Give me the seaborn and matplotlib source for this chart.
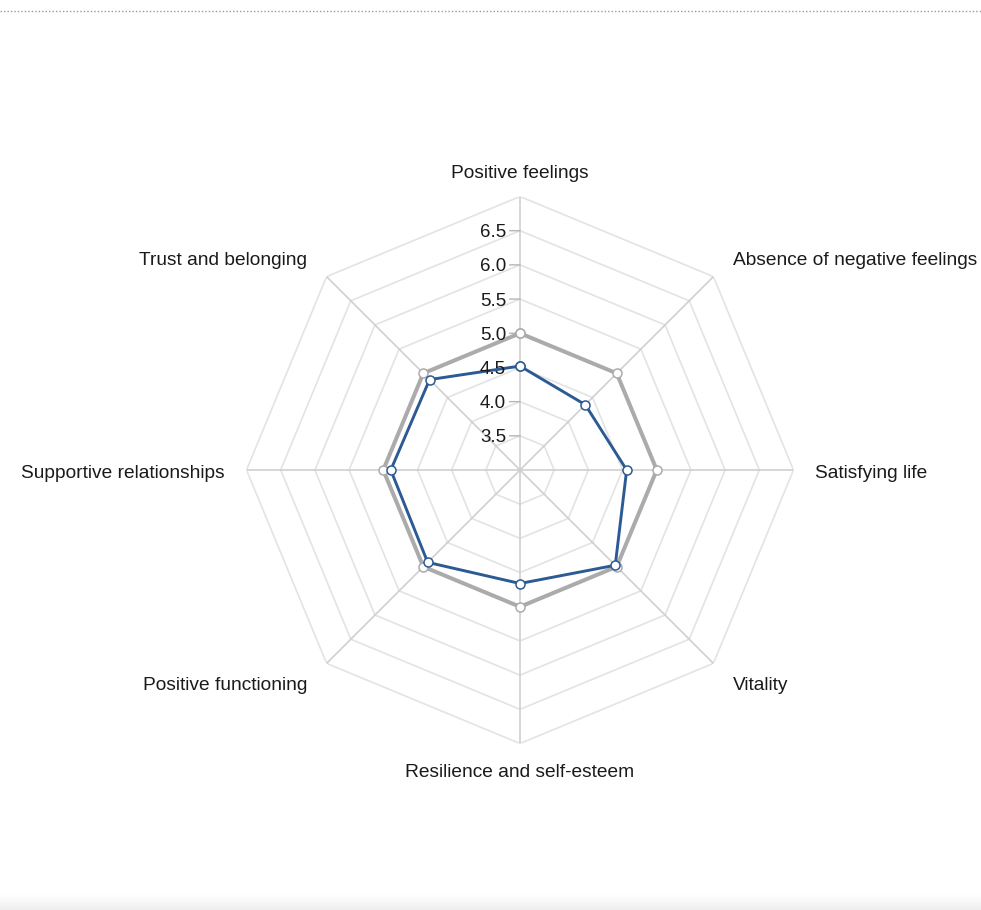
import numpy as np
import pandas as pd
import matplotlib
matplotlib.use("Agg")
import matplotlib.pyplot as plt
from matplotlib.lines import Line2D
import seaborn as sns

categories = ["Positive feelings", "Absence of negative feelings", "Satisfying life",
              "Vitality", "Resilience and self-esteem", "Positive functioning",
              "Supportive relationships", "Trust and belonging"]
series_blue = [4.52, 4.35, 4.56, 4.97, 4.66, 4.91, 4.89, 4.87]
series_gray = [5.0, 5.0, 5.0, 5.0, 5.0, 5.0, 5.0, 5.0]
tick_values = [3.5, 4.0, 4.5, 5.0, 5.5, 6.0, 6.5]
tick_labels = ["3.5", "4.0", "4.5", "5.0", "5.5", "6.0", "6.5"]
grid_levels = [3.5, 4.0, 4.5, 5.0, 5.5, 6.0, 6.5, 7.0]
r_min, r_max = 3.0, 7.0

sns.set_style("white")
plt.rcParams["font.family"] = ["Liberation Sans", "DejaVu Sans"]

W, H = 981, 910
fig = plt.figure(figsize=(W / 100, H / 100), dpi=100)
cx, cy, R = 520, 470, 273.5
ax = fig.add_axes([(cx - R) / W, (H - cy - R) / H, 2 * R / W, 2 * R / H], projection="polar")
ax.set_theta_zero_location("N")
ax.set_theta_direction(-1)
ax.set_ylim(r_min, r_max)
ax.grid(False)
ax.spines["polar"].set_visible(False)
ax.set_xticks([])
ax.set_yticks([])
ax.set_facecolor("none")

n = len(categories)
angles = np.arange(n) * 2 * np.pi / n
closed_angles = np.append(angles, 2 * np.pi)

# polygon grid rings
for lv in grid_levels:
    ax.plot(closed_angles, [lv] * (n + 1), color="#e3e3e3", lw=1.2, zorder=1)
# spokes
for a in angles:
    ax.plot([a, a], [r_min, r_max], color="#cfcfcf", lw=1.2, zorder=1.5)

def draw_series(vals, color, lw, z):
    df = pd.DataFrame({"theta": closed_angles, "value": list(vals) + [vals[0]]})
    sns.lineplot(data=df, x="theta", y="value", ax=ax, sort=False, estimator=None,
                 color=color, lw=lw, marker="o", markersize=6.5, markerfacecolor="white",
                 markeredgecolor=color, markeredgewidth=1.1, zorder=z)

draw_series(series_gray, "#ababab", 2.9, 3)
draw_series(series_blue, "#2c5a93", 2.1, 4)
ax.set_xlabel("")
ax.set_ylabel("")
ax.set_xticks([])
ax.set_yticks([])
ax.set_ylim(r_min, r_max)

# radial tick labels and tick marks on the top spoke
for v, lab in zip(tick_values, tick_labels):
    ax.annotate("", xy=(0, v), xytext=(-7.5, 0), textcoords="offset points",
                arrowprops=dict(arrowstyle="-", color="#b5b5b5", lw=1.0,
                                shrinkA=0, shrinkB=0), zorder=2)
    ax.annotate(lab, xy=(0, v), xytext=(-10, -1.5), textcoords="offset points",
                ha="right", va="center", fontsize=13.5, color="#1a1a1a", zorder=5)

# category labels
for a, name in zip(angles, categories):
    s = np.sin(a)
    if abs(s) < 1e-6:
        ha, r = "center", 7.38
    elif abs(abs(s) - 1) < 1e-6:
        ha, r = ("left" if s > 0 else "right"), 7.32
    else:
        ha, r = ("left" if s > 0 else "right"), 7.40
    ax.annotate(name, xy=(a, r), xytext=(0, -2.2), textcoords="offset points",
                ha=ha, va="center", fontsize=13.8, color="#1a1a1a", annotation_clip=False)

# top dotted separator
fig.add_artist(Line2D([0, 1], [1 - 11 / H, 1 - 11 / H], transform=fig.transFigure,
                      color="#9a9a9a", lw=1.0, linestyle=(0, (1, 1.5))))
# bottom soft shadow strip
grad_ax = fig.add_axes([0, 0, 1, 16 / H])
grad = np.linspace(0.93, 1.0, 32).reshape(-1, 1)
grad_ax.imshow(grad, aspect="auto", cmap="gray", vmin=0, vmax=1,
               extent=[0, 1, 0, 1], origin="lower")
grad_ax.axis("off")

fig.savefig("out.png", dpi=100, facecolor="white")
